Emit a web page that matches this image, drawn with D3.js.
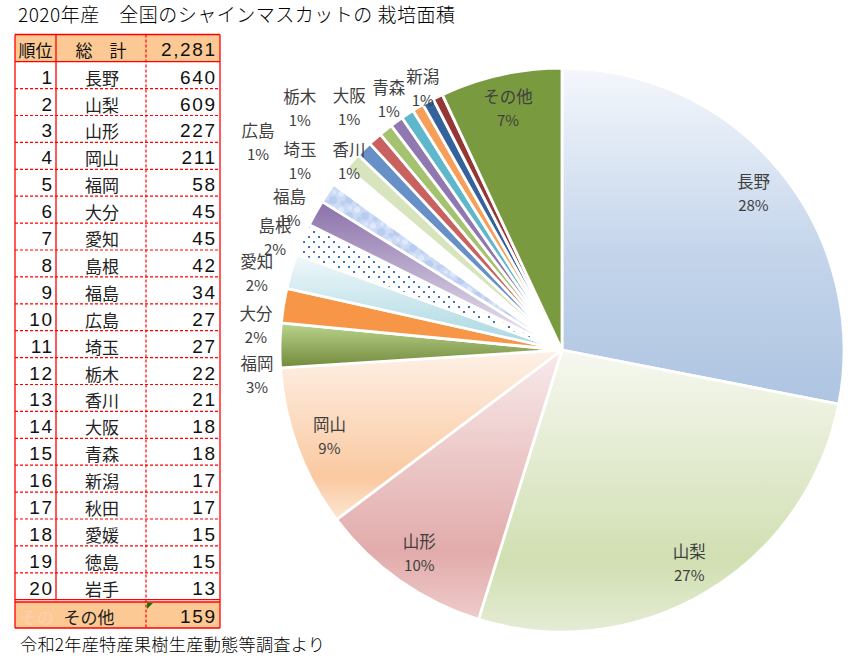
<!DOCTYPE html>
<html><head><meta charset="utf-8">
<script src="https://cdn.jsdelivr.net/npm/d3@7"></script>
<style>body{margin:0;background:#fff}svg{display:block}</style>
</head><body>
<svg id="c" width="855" height="658"></svg>
<script>
// ---------------- data ----------------
const titleText = "2020年産　全国のシャインマスカットの 栽培面積";
const sourceText = "令和2年産特産果樹生産動態等調査より";
const rankHeader = "順位";
const totalHeader = "総　計";
const totalText = "2,281";
const ranks = [1,2,3,4,5,6,7,8,9,10,11,12,13,14,15,16,17,18,19,20];
const prefectures = ["長野","山梨","山形","岡山","福岡","大分","愛知","島根","福島","広島","埼玉","栃木","香川","大阪","青森","新潟","秋田","愛媛","徳島","岩手"];
const areas = [640,609,227,211,58,45,45,42,34,27,27,22,21,18,18,17,17,15,15,13];
const otherLabel = "その他";
const otherArea = 159;

// ---------------- style / layout ----------------
const fills = ["url(#g0)","url(#g1)","url(#g2)","url(#g3)","url(#g4)","#f79646","url(#g6)","url(#dots)","url(#g8)","url(#tex)",
  "#ffffff","#d7e4bd","#6690c6","#c9625f","#a5c270","#9079b0","#5fb7cc","#f79f58","#34629a","#953735","#7a9a3f"];
const insideLabels = ["長野","山梨","山形","岡山","その他"];
const outsideLabelPolar = {"福岡":[265.5,1.085],"大分":[274.7,1.089],"愛知":[284.3,1.117],"島根":[291.5,1.094],"福島":[297.6,1.09],
  "広島":[304.5,1.308],"埼玉":[305.8,1.146],"栃木":[312.8,1.267],"香川":[311.6,1.010],"大阪":[318.8,1.146],"青森":[325.5,1.084],"新潟":[332.1,1.055]};

const svg = d3.select("#c");
const defs = svg.append("defs");
const jp = "'Noto Sans CJK JP','Noto Sans',sans-serif";
const num = "'Liberation Sans',Arial,sans-serif";

function vgrad(id, stops){
  const g = defs.append("linearGradient").attr("id",id).attr("x1",0).attr("y1",0).attr("x2",0).attr("y2",1);
  stops.forEach(s=>g.append("stop").attr("offset",s[0]).attr("stop-color",s[1]));
}
vgrad("g0",[[0,"#f4f7fc"],[0.55,"#c4d5eb"],[1,"#aec4e1"]]);
vgrad("g1",[[0,"#f6f8f0"],[0.75,"#d1dfb2"],[1,"#e4ecd4"]]);
vgrad("g2",[[0,"#f8eaea"],[0.75,"#e2abab"],[1,"#eecccb"]]);
vgrad("g3",[[0,"#fef1e7"],[0.75,"#fac9a0"],[1,"#fde6d2"]]);
vgrad("g4",[[0,"#bcd58e"],[1,"#70893a"]]);
vgrad("g6",[[0,"#f0f8fa"],[1,"#a6d6e0"]]);
vgrad("g8",[[0,"#8a70aa"],[1,"#f2eef6"]]);
const dots = defs.append("pattern").attr("id","dots").attr("patternUnits","userSpaceOnUse").attr("width",10).attr("height",10);
dots.append("rect").attr("width",10).attr("height",10).attr("fill","#fff");
dots.append("rect").attr("x",1).attr("y",1).attr("width",2).attr("height",2).attr("fill","#3f73b8");
dots.append("rect").attr("x",6).attr("y",6).attr("width",2).attr("height",2).attr("fill","#3f73b8");
const tex = defs.append("pattern").attr("id","tex").attr("patternUnits","userSpaceOnUse").attr("width",16).attr("height",16);
tex.append("rect").attr("width",16).attr("height",16).attr("fill","#cbdaf5");
[[3,4,3,"#e0e9fb"],[11,10,4,"#b9cdf0"],[12,2,2,"#dde7fa"],[5,13,2.5,"#bccff1"]].forEach(c=>
  tex.append("circle").attr("cx",c[0]).attr("cy",c[1]).attr("r",c[2]).attr("fill",c[3]));

// ---------------- title & source ----------------
svg.append("text").attr("x",18).attr("y",22).attr("font-family",jp).attr("font-size",19).attr("fill","#000")
  .attr("font-weight",300).attr("textLength",437).attr("lengthAdjust","spacing").text(titleText);
svg.append("text").attr("x",20).attr("y",651).attr("font-family",jp).attr("font-size",17.2).attr("fill","#000")
  .attr("font-weight",300).attr("textLength",305).attr("lengthAdjust","spacing").text(sourceText);

// ---------------- table ----------------
const colX = [15,56,146,220];
const y = d3.scaleLinear().domain([0,20]).range([61.7,599.7]);
const headTop = 34.5, otherTop = 602, otherBot = 628;
const red = "#ff0000";
const tbl = svg.append("g");
tbl.append("rect").attr("x",colX[0]).attr("y",headTop).attr("width",colX[3]-colX[0]).attr("height",y(0)-headTop).attr("fill","#fcc893");
tbl.append("rect").attr("x",colX[0]).attr("y",otherTop).attr("width",colX[3]-colX[0]).attr("height",otherBot-otherTop).attr("fill","#fcc893");
tbl.selectAll("line.rowline").data(d3.range(1,20)).join("line")
  .attr("x1",colX[0]).attr("x2",colX[3]).attr("y1",d=>y(d)).attr("y2",d=>y(d))
  .attr("stroke",red).attr("stroke-width",1.2).attr("stroke-dasharray","3,2");
tbl.append("line").attr("x1",colX[2]).attr("x2",colX[2]).attr("y1",headTop).attr("y2",otherBot)
  .attr("stroke",red).attr("stroke-width",1.2).attr("stroke-dasharray","3,2");
[[colX[0],headTop,colX[3],headTop],[colX[0],y(0),colX[3],y(0)],[colX[0],y(20),colX[3],y(20)],[colX[0],otherTop,colX[3],otherTop],
 [colX[0],otherBot,colX[3],otherBot],[colX[0],headTop,colX[0],otherBot],[colX[3],headTop,colX[3],otherBot],[colX[1],headTop,colX[1],y(20)]]
 .forEach(l=>tbl.append("line").attr("x1",l[0]).attr("y1",l[1]).attr("x2",l[2]).attr("y2",l[3]).attr("stroke",red).attr("stroke-width",1.3));
const ls = 1.6, nf = 19;
tbl.append("text").attr("x",(colX[0]+colX[1])/2).attr("y",y(0)-5).attr("text-anchor","middle").attr("font-family",jp).attr("font-size",17).attr("fill","#111").text(rankHeader);
tbl.append("text").attr("x",(colX[1]+colX[2])/2).attr("y",y(0)-5).attr("text-anchor","middle").attr("font-family",jp).attr("font-size",17).attr("fill","#111").text(totalHeader);
tbl.append("text").attr("x",215+ls).attr("y",y(0)-6).attr("text-anchor","end").attr("font-family",num).attr("font-size",nf).attr("letter-spacing",ls).attr("fill","#111").text(totalText);
const rows = tbl.selectAll("g.row").data(ranks).join("g");
rows.append("text").attr("x",52+ls).attr("y",(d,i)=>y(i+1)-5).attr("text-anchor","end").attr("font-family",num).attr("font-size",nf).attr("letter-spacing",ls).attr("fill","#111").text(d=>d);
rows.append("text").attr("x",102).attr("y",(d,i)=>y(i+1)-4).attr("text-anchor","middle").attr("font-family",jp).attr("font-size",17).attr("fill","#222").text((d,i)=>prefectures[i]);
rows.append("text").attr("x",215+ls).attr("y",(d,i)=>y(i+1)-5).attr("text-anchor","end").attr("font-family",num).attr("font-size",nf).attr("letter-spacing",ls).attr("fill","#111").text((d,i)=>areas[i]);
tbl.append("text").attr("x",20).attr("y",otherBot-4).attr("font-family",jp).attr("font-size",17).attr("fill","#fbd3b2").text(otherLabel.slice(0,2));
tbl.append("text").attr("x",89).attr("y",otherBot-4).attr("text-anchor","middle").attr("font-family",jp).attr("font-size",17).attr("fill","#222").text(otherLabel);
tbl.append("text").attr("x",215+ls).attr("y",otherBot-5).attr("text-anchor","end").attr("font-family",num).attr("font-size",nf).attr("letter-spacing",ls).attr("fill","#111").text(otherArea);
tbl.append("path").attr("d",`M${colX[2]+1},${otherTop+1}h6l-6,6z`).attr("fill","#008000");

// ---------------- pie ----------------
const names = prefectures.concat([otherLabel]);
const values = areas.concat([otherArea]);
const total = d3.sum(values);
const cx = 562, cy = 350, R = 282;
const pie = d3.pie().sort(null).value(d=>d.v);
const arcs = pie(names.map((n,i)=>({n, v:values[i], i})));
const arc = d3.arc().innerRadius(0).outerRadius(R);
const g = svg.append("g").attr("transform",`translate(${cx},${cy})`);
g.selectAll("path").data(arcs).join("path").attr("d",arc)
  .attr("fill",d=>fills[d.data.i]).attr("stroke","#fff").attr("stroke-width",2.8).attr("stroke-linejoin","round");

const pct = d3.format(".0%");
const inArc = d3.arc().innerRadius(248).outerRadius(248);
const labelData = arcs.filter(d=>insideLabels.includes(d.data.n) || outsideLabelPolar[d.data.n]);
labelData.forEach(d=>{
  let px, py;
  if (insideLabels.includes(d.data.n)) { [px,py] = inArc.centroid(d); }
  else { const [a,r] = outsideLabelPolar[d.data.n]; const t = a*Math.PI/180; px = Math.sin(t)*R*r; py = -Math.cos(t)*R*r; }
  const t = g.append("g").attr("transform",`translate(${px},${py})`);
  t.append("text").attr("y",-11.5).attr("text-anchor","middle").attr("dominant-baseline","central")
    .attr("font-family",jp).attr("font-size",16.5).attr("fill","#404040").text(d.data.n);
  t.append("text").attr("y",12).attr("text-anchor","middle").attr("dominant-baseline","central")
    .attr("font-family",jp).attr("font-size",15).attr("fill","#404040").text(pct(d.data.v/total));
});
</script>
</body></html>
